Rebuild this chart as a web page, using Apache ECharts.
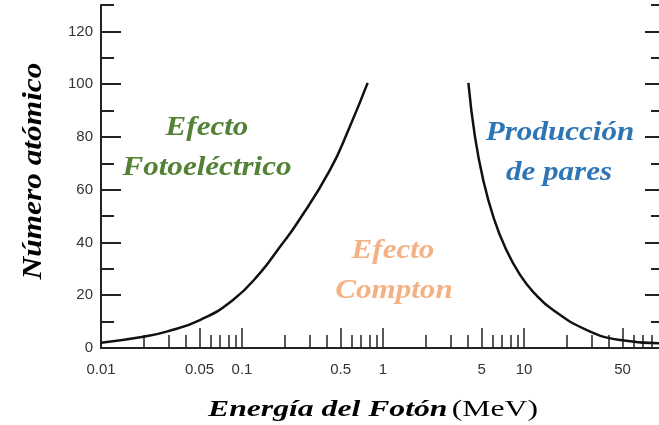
<!DOCTYPE html>
<html>
<head>
<meta charset="utf-8">
<script src="https://cdn.jsdelivr.net/npm/echarts@6/dist/echarts.min.js"></script>
<style>html,body{margin:0;padding:0;background:#fff;}#c{width:659px;height:425px;}</style>
</head>
<body>
<div id="c"></div>
<script>
// Photoelectric boundary (energy MeV, atomic number)
const photoE = [0.01, 0.02, 0.0292, 0.0503, 0.0863, 0.134, 0.186, 0.245, 0.42, 0.58, 0.778];
const photoZ = [2, 4.3, 6.2, 10.6, 18.2, 28.4, 38.4, 47.2, 67.4, 83.8, 100.5];
// Pair production boundary
const pairE = [4.03, 4.49, 5.14, 6.06, 7.33, 9.37, 11.97, 16.07, 27.9, 48.0, 90.6];
const pairZ = [100.5, 80, 63.6, 49.7, 38.3, 27.7, 20.5, 14.4, 6.8, 3.0, 1.8];

const xTickLabels = ['0.01', '0.05', '0.1', '0.5', '1', '5', '10', '50'];
const xMajorTicks = [0.05, 0.1, 0.5, 1, 5, 10, 50];
const xMinorTicks = [0.02, 0.03, 0.04, 0.06, 0.07, 0.08, 0.09,
                     0.2, 0.3, 0.4, 0.6, 0.7, 0.8, 0.9,
                     2, 3, 4, 6, 7, 8, 9,
                     20, 30, 40, 60, 70, 80];
const yTickLabels = [0, 20, 40, 60, 80, 100, 120];
const yMajorTicks = [20, 40, 60, 80, 100, 120];
const yMinorTicks = [10, 30, 50, 70, 90, 110, 130];

const axisColor = '#222';
const xBase = {type: 'log', logBase: 10, min: 0.01, max: 90.6, position: 'bottom', splitLine: {show: false}, minorTick: {show: false}};
const yBase = {type: 'value', min: 0, max: 130, splitLine: {show: false}, minorTick: {show: false}};

const chart = echarts.init(document.getElementById('c'), null, {renderer: 'canvas'});
chart.setOption({
  backgroundColor: '#ffffff',
  animation: false,
  grid: {left: 101, right: 0, top: 5, bottom: 77, containLabel: false},
  xAxis: [
    Object.assign({}, xBase, {
      axisLine: {show: true, lineStyle: {color: axisColor, width: 2}},
      axisTick: {show: true, inside: true, length: 20, customValues: xMajorTicks, lineStyle: {color: axisColor, width: 1.5}},
      axisLabel: {show: true, customValues: xTickLabels.map(Number), margin: 14, color: '#333', fontSize: 15,
        fontFamily: 'Liberation Sans', formatter: v => String(+(+v).toPrecision(3))}
    }),
    Object.assign({}, xBase, {
      axisLine: {show: false},
      axisTick: {show: true, inside: true, length: 13, customValues: xMinorTicks, lineStyle: {color: axisColor, width: 1.5}},
      axisLabel: {show: false}
    })
  ],
  yAxis: [
    Object.assign({}, yBase, {
      position: 'left',
      axisLine: {show: true, lineStyle: {color: axisColor, width: 2}},
      axisTick: {show: true, inside: true, length: 20, customValues: yMajorTicks, lineStyle: {color: axisColor, width: 2}},
      axisLabel: {show: true, customValues: yTickLabels, margin: 8, color: '#333', fontSize: 15, fontFamily: 'Liberation Sans'}
    }),
    Object.assign({}, yBase, {
      position: 'left',
      axisLine: {show: false},
      axisTick: {show: true, inside: true, length: 13, customValues: yMinorTicks, lineStyle: {color: axisColor, width: 2}},
      axisLabel: {show: false}
    }),
    Object.assign({}, yBase, {
      position: 'right', offset: 0,
      axisLine: {show: false},
      axisTick: {show: true, inside: true, length: 14, customValues: yMajorTicks, lineStyle: {color: axisColor, width: 2}},
      axisLabel: {show: false}
    }),
    Object.assign({}, yBase, {
      position: 'right', offset: 0,
      axisLine: {show: false},
      axisTick: {show: true, inside: true, length: 8, customValues: yMinorTicks, lineStyle: {color: axisColor, width: 2}},
      axisLabel: {show: false}
    })
  ],
  series: [
    {type: 'line', xAxisIndex: 0, yAxisIndex: 0, smooth: 0.5, symbol: 'none',
     lineStyle: {color: '#111', width: 2.5}, data: photoE.map((e, i) => [e, photoZ[i]])},
    {type: 'line', xAxisIndex: 0, yAxisIndex: 0, smooth: 0.5, symbol: 'none',
     lineStyle: {color: '#111', width: 2.5}, data: pairE.map((e, i) => [e, pairZ[i]])}
  ],
  graphic: [
    {type: 'text', x: 34, y: 171, rotation: Math.PI / 2, scaleX: 1.12,
     style: {text: 'Número atómico', font: 'italic bold 28px "Liberation Serif"', fill: '#000', align: 'center', verticalAlign: 'middle'}},
    {type: 'text', x: 373, y: 410, scaleX: 1.32,
     style: {text: '{b|Energía del Fotón} {r|(MeV)}', align: 'center', verticalAlign: 'middle', fill: '#000',
       rich: {b: {font: 'italic bold 24px "Liberation Serif"', fill: '#000'}, r: {font: '24px "Liberation Serif"', fill: '#000'}}}},
    {type: 'text', x: 207, y: 128, scaleX: 1.15,
     style: {text: 'Efecto', font: 'italic bold 27px "Liberation Serif"', fill: '#538135', align: 'center', verticalAlign: 'middle'}},
    {type: 'text', x: 207, y: 168, scaleX: 1.15,
     style: {text: 'Fotoeléctrico', font: 'italic bold 27px "Liberation Serif"', fill: '#538135', align: 'center', verticalAlign: 'middle'}},
    {type: 'text', x: 393, y: 251, scaleX: 1.15,
     style: {text: 'Efecto', font: 'italic bold 27px "Liberation Serif"', fill: '#f4b183', align: 'center', verticalAlign: 'middle'}},
    {type: 'text', x: 394, y: 291, scaleX: 1.15,
     style: {text: 'Compton', font: 'italic bold 27px "Liberation Serif"', fill: '#f4b183', align: 'center', verticalAlign: 'middle'}},
    {type: 'text', x: 560, y: 133, scaleX: 1.15,
     style: {text: 'Producción', font: 'italic bold 27px "Liberation Serif"', fill: '#2e75b6', align: 'center', verticalAlign: 'middle'}},
    {type: 'text', x: 559, y: 173, scaleX: 1.15,
     style: {text: 'de pares', font: 'italic bold 27px "Liberation Serif"', fill: '#2e75b6', align: 'center', verticalAlign: 'middle'}}
  ]
});
</script>
</body>
</html>
